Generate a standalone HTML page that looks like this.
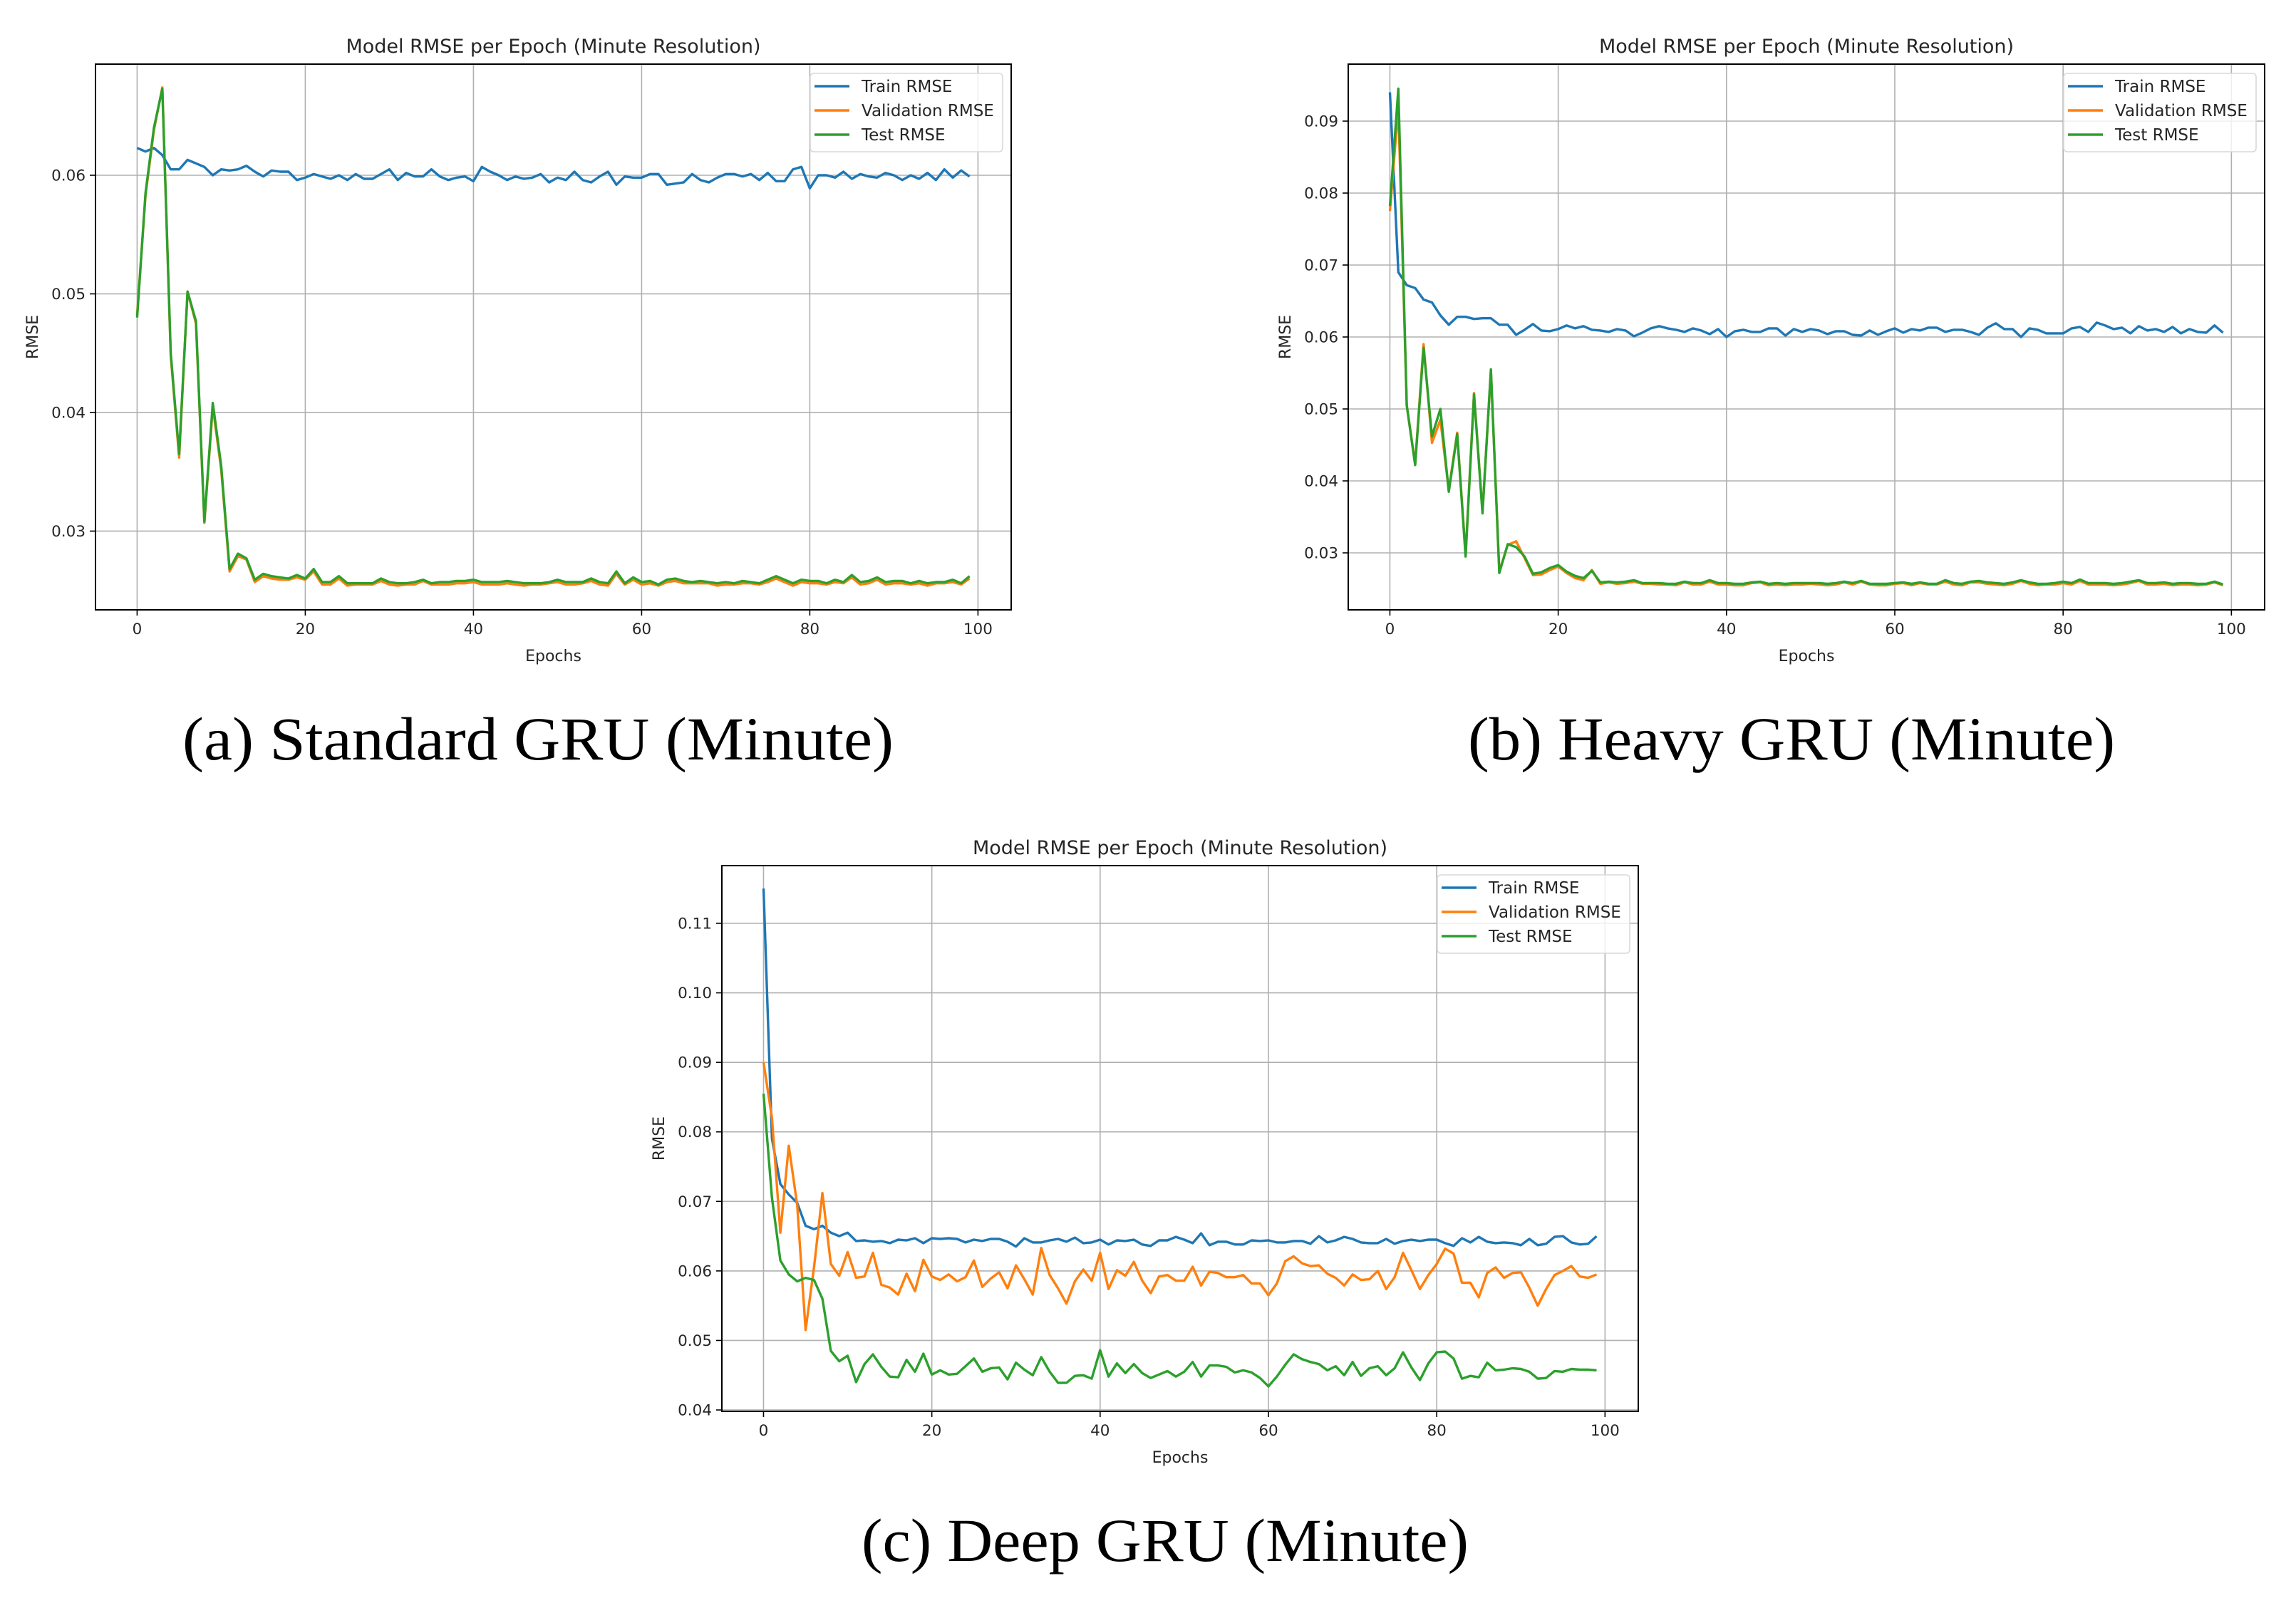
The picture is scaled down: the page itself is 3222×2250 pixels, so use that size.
<!DOCTYPE html>
<html><head><meta charset="utf-8"><style>
html,body{margin:0;padding:0;background:#fff;width:3222px;height:2250px;overflow:hidden}
svg{display:block}
text{font-family:"DejaVu Sans","Liberation Sans",sans-serif;fill:#262626}
.cap{font-family:"Liberation Serif",serif;fill:#000}
</style></head><body>
<svg id="fig" width="3222" height="2250" viewBox="0 0 3222 2250" xmlns="http://www.w3.org/2000/svg">
<rect width="3222" height="2250" fill="#fff"/>
<text class="cap" x="256" y="1066" font-size="86" textLength="998" lengthAdjust="spacingAndGlyphs">(a) Standard GRU (Minute)</text>
<text class="cap" x="2060" y="1066" font-size="86" textLength="908" lengthAdjust="spacingAndGlyphs">(b) Heavy GRU (Minute)</text>
<text class="cap" x="1209" y="2191" font-size="86" textLength="852" lengthAdjust="spacingAndGlyphs">(c) Deep GRU (Minute)</text>
</svg>
<script>
const epochs = Array.from({length:100},(_, i)=>i);
const xTicks = [0,20,40,60,80,100];
const yTicksA = [0.03,0.04,0.05,0.06];
const yTicksB = [0.03,0.04,0.05,0.06,0.07,0.08,0.09];
const yTicksC = [0.04,0.05,0.06,0.07,0.08,0.09,0.10,0.11];
const yTickLabelsA = ["0.03","0.04","0.05","0.06"];
const yTickLabelsB = ["0.03","0.04","0.05","0.06","0.07","0.08","0.09"];
const yTickLabelsC = ["0.04","0.05","0.06","0.07","0.08","0.09","0.10","0.11"];
const seriesNames = ["Train RMSE","Validation RMSE","Test RMSE"];

const trainA = [.0623,.062,.0623,.0617,.0605,.0605,.0613,.061,.0607,.060,
.0605,.0604,.0605,.0608,.0603,.0599,.0604,.0603,.0603,.0596,
.0598,.0601,.0599,.0597,.06,.0596,.0601,.0597,.0597,.0601,
.0605,.0596,.0602,.0599,.0599,.0605,.0599,.0596,.0598,.0599,
.0595,.0607,.0603,.06,.0596,.0599,.0597,.0598,.0601,.0594,
.0598,.0596,.0603,.0596,.0594,.0599,.0603,.0592,.0599,.0598,
.0598,.0601,.0601,.0592,.0593,.0594,.0601,.0596,.0594,.0598,
.0601,.0601,.0599,.0601,.0596,.0602,.0595,.0595,.0605,.0607,
.0589,.06,.06,.0598,.0603,.0597,.0601,.0599,.0598,.0602,
.06,.0596,.06,.0597,.0602,.0596,.0605,.0598,.0604,.0599];
const valA = [.0482,.0583,.0638,.0674,.0448,.0362,.0502,.0475,.0307,.0405,
.0352,.0266,.0279,.0276,.0257,.0262,.026,.0259,.0259,.0261,
.0259,.0266,.0255,.0255,.026,.0254,.0255,.0255,.0255,.0258,
.0255,.0254,.0255,.0255,.0258,.0255,.0255,.0255,.0256,.0256,
.0257,.0255,.0255,.0255,.0256,.0255,.0254,.0255,.0255,.0256,
.0257,.0255,.0255,.0256,.0258,.0255,.0254,.0264,.0255,.0259,
.0255,.0256,.0254,.0257,.0258,.0256,.0256,.0256,.0256,.0254,
.0255,.0255,.0256,.0256,.0255,.0257,.026,.0257,.0254,.0257,
.0256,.0256,.0255,.0257,.0256,.0261,.0255,.0256,.0259,.0255,
.0256,.0256,.0255,.0256,.0254,.0256,.0256,.0257,.0255,.026];
const testA = [.048,.0585,.064,.0673,.045,.0365,.0502,.0477,.0308,.0408,
.0355,.0268,.0281,.0277,.0259,.0264,.0262,.0261,.026,.0263,
.026,.0268,.0257,.0257,.0262,.0256,.0256,.0256,.0256,.026,
.0257,.0256,.0256,.0257,.0259,.0256,.0257,.0257,.0258,.0258,
.0259,.0257,.0257,.0257,.0258,.0257,.0256,.0256,.0256,.0257,
.0259,.0257,.0257,.0257,.026,.0257,.0256,.0266,.0256,.0261,
.0257,.0258,.0255,.0259,.026,.0258,.0257,.0258,.0257,.0256,
.0257,.0256,.0258,.0257,.0256,.0259,.0262,.0259,.0256,.0259,
.0258,.0258,.0256,.0259,.0257,.0263,.0257,.0258,.0261,.0257,
.0258,.0258,.0256,.0258,.0256,.0257,.0257,.0259,.0256,.0262];

const trainB = [.094,.069,.0672,.0668,.0652,.0648,.063,.0617,.0628,.0628,
.0625,.0626,.0626,.0617,.0617,.0603,.061,.0618,.0609,.0608,
.0611,.0616,.0612,.0615,.061,.0609,.0607,.0611,.0609,.0601,
.0606,.0612,.0615,.0612,.061,.0607,.0612,.0609,.0604,.0611,
.06,.0608,.061,.0607,.0607,.0612,.0612,.0602,.0611,.0607,
.0611,.0609,.0604,.0608,.0608,.0603,.0602,.0609,.0603,.0608,
.0612,.0606,.0611,.0609,.0613,.0613,.0607,.061,.061,.0607,
.0603,.0613,.0619,.0611,.0611,.06,.0612,.061,.0605,.0605,
.0605,.0612,.0614,.0607,.062,.0616,.0611,.0613,.0605,.0615,
.0609,.0611,.0607,.0614,.0605,.0611,.0607,.0606,.0616,.0606];
const valB = [.0775,.092,.0505,.0424,.059,.0453,.0485,.0387,.0467,.0297,
.0522,.0357,.0553,.0274,.0311,.0316,.0293,.0269,.027,.0276,
.0281,.0272,.0265,.0262,.0276,.0257,.0259,.0257,.0258,.026,
.0257,.0257,.0256,.0256,.0255,.0259,.0256,.0256,.026,.0256,
.0256,.0255,.0255,.0258,.0259,.0255,.0256,.0255,.0256,.0256,
.0257,.0256,.0255,.0256,.0259,.0256,.026,.0256,.0255,.0255,
.0257,.0258,.0255,.0258,.0256,.0256,.026,.0256,.0255,.0259,
.0259,.0257,.0256,.0255,.0257,.0261,.0257,.0255,.0256,.0256,
.0258,.0256,.0261,.0256,.0256,.0256,.0255,.0256,.0258,.0261,
.0256,.0256,.0257,.0255,.0256,.0256,.0255,.0256,.0259,.0255];
const testB = [.0782,.0945,.0505,.0422,.0585,.0462,.05,.0385,.0465,.0295,
.052,.0355,.0555,.0272,.0312,.0308,.0295,.0271,.0273,.0279,
.0283,.0274,.0268,.0265,.0275,.0259,.026,.0259,.026,.0262,
.0258,.0258,.0258,.0257,.0257,.026,.0258,.0258,.0262,.0258,
.0258,.0257,.0257,.0259,.026,.0257,.0258,.0257,.0258,.0258,
.0258,.0258,.0257,.0258,.026,.0258,.0261,.0257,.0257,.0257,
.0258,.0259,.0257,.0259,.0257,.0257,.0262,.0258,.0257,.026,
.0261,.0259,.0258,.0257,.0259,.0262,.0259,.0257,.0257,.0258,
.026,.0258,.0263,.0258,.0258,.0258,.0257,.0258,.026,.0262,
.0258,.0258,.0259,.0257,.0258,.0258,.0257,.0257,.026,.0256];

const trainC = [.115,.079,.0725,.071,.0698,.0665,.066,.0665,.0655,.065,
.0655,.0643,.0644,.0642,.0643,.064,.0645,.0644,.0647,.064,
.0647,.0646,.0647,.0646,.0641,.0645,.0643,.0646,.0646,.0642,
.0635,.0647,.0641,.0641,.0644,.0646,.0642,.0648,.064,.0641,
.0645,.0638,.0644,.0643,.0645,.0638,.0636,.0644,.0644,.0649,
.0645,.064,.0654,.0637,.0642,.0642,.0638,.0638,.0644,.0643,
.0644,.0641,.0641,.0643,.0643,.0639,.065,.0641,.0644,.0649,
.0646,.0641,.064,.064,.0646,.0639,.0643,.0645,.0643,.0645,
.0645,.064,.0636,.0647,.0641,.0649,.0642,.064,.0641,.064,
.0637,.0646,.0637,.0639,.0649,.065,.0641,.0638,.0639,.065];
const valC = [.09,.082,.0655,.078,.0695,.0515,.0605,.0712,.061,.0593,
.0627,.059,.0592,.0626,.058,.0576,.0566,.0596,.0571,.0616,
.0592,.0587,.0595,.0585,.0591,.0615,.0577,.0589,.0598,.0575,
.0608,.0588,.0566,.0633,.0594,.0575,.0553,.0585,.0602,.0586,
.0626,.0574,.0601,.0593,.0613,.0586,.0568,.0592,.0594,.0586,
.0586,.0606,.0579,.0599,.0597,.0591,.0591,.0594,.0582,.0582,
.0565,.0582,.0614,.0621,.0611,.0607,.0608,.0596,.059,.0579,
.0595,.0587,.0588,.06,.0574,.0591,.0626,.0601,.0574,.0594,
.061,.0632,.0625,.0583,.0583,.0562,.0597,.0605,.059,.0597,
.0598,.0576,.055,.0574,.0594,.06,.0607,.0592,.059,.0595];
const testC = [.0855,.0705,.0615,.0595,.0585,.059,.0587,.056,.0485,.047,
.0478,.044,.0466,.048,.0462,.0448,.0447,.0472,.0455,.0481,
.0451,.0457,.0451,.0452,.0463,.0474,.0455,.046,.0461,.0444,
.0468,.0458,.045,.0476,.0455,.0439,.0439,.0449,.045,.0445,
.0486,.0448,.0467,.0453,.0466,.0453,.0446,.0451,.0456,.0448,
.0455,.0469,.0448,.0464,.0464,.0462,.0454,.0457,.0454,.0446,
.0434,.0448,.0465,.048,.0473,.0469,.0466,.0457,.0463,.045,
.0469,.0449,.046,.0463,.045,.046,.0483,.0461,.0443,.0467,
.0483,.0484,.0474,.0445,.0449,.0447,.0468,.0457,.0458,.046,
.0459,.0455,.0445,.0446,.0456,.0455,.0459,.0458,.0458,.0457];

const NS = "http://www.w3.org/2000/svg";
const svg = document.getElementById('fig');
const COLORS = ["#1f77b4","#ff7f0e","#2ca02c"];
function mk(tag, attrs, parent){
  const e = document.createElementNS(NS, tag);
  for (const k in attrs) e.setAttribute(k, attrs[k]);
  (parent||svg).appendChild(e);
  return e;
}
function drawChart(id, box, yMin, yMax, yTicks, yLabels, series, title){
  const g = mk('g', {});
  
  
  const xMin = -4.95, xMax = 103.95;
  const X = v => box.l + (v - xMin) / (xMax - xMin) * (box.r - box.l);
  const Y = v => box.b - (v - yMin) / (yMax - yMin) * (box.b - box.t);
  xTicks.forEach(t => {
    const l = mk('line', {x1:X(t), x2:X(t), y1:box.t, y2:box.b, stroke:'#b0b0b0', 'stroke-width':1.6}, g);
    
    
  });
  yTicks.forEach(t => {
    const l = mk('line', {x1:box.l, x2:box.r, y1:Y(t), y2:Y(t), stroke:'#b0b0b0', 'stroke-width':1.6}, g);
    
    
  });
  series.forEach((s, si) => {
    const d = epochs.map((e, i) => (i ? 'L' : 'M') + X(e).toFixed(1) + ' ' + Y(s[i]).toFixed(1)).join(' ');
    const p = mk('path', {d, fill:'none', stroke:COLORS[si], 'stroke-width':3.4, 'stroke-linejoin':'round'}, g);
    
    
  });
  const fr = mk('rect', {x:box.l, y:box.t, width:box.r-box.l, height:box.b-box.t, fill:'none', stroke:'#000', 'stroke-width':2}, g);
  
  
  xTicks.forEach(t => {
    mk('line', {x1:X(t), x2:X(t), y1:box.b, y2:box.b+8, stroke:'#000', 'stroke-width':1.6}, g);
    const tx = mk('text', {x:X(t), y:box.b+34, 'font-size':21.5, 'text-anchor':'middle'}, g);
    tx.textContent = String(t);
    
    
  });
  yTicks.forEach((t, i) => {
    mk('line', {x1:box.l-8, x2:box.l, y1:Y(t), y2:Y(t), stroke:'#000', 'stroke-width':1.6}, g);
    const tx = mk('text', {x:box.l-14, y:Y(t)+7.5, 'font-size':21.5, 'text-anchor':'end'}, g);
    tx.textContent = yLabels[i];
    
    
  });
  const xl = mk('text', {x:(box.l+box.r)/2, y:box.b+72, 'font-size':22, 'text-anchor':'middle'}, g);
  xl.textContent = 'Epochs';
  
  
  const yx = box.l - 81, yy = (box.t+box.b)/2;
  const yl = mk('text', {x:yx, y:yy, 'font-size':22, 'text-anchor':'middle', transform:`rotate(-90 ${yx} ${yy})`}, g);
  yl.textContent = 'RMSE';
  
  
  const tt = mk('text', {x:(box.l+box.r)/2, y:box.t-16, 'font-size':27, 'text-anchor':'middle'}, g);
  tt.textContent = title;
  
  
  const lg = mk('g', {}, g);
  
  
  const lr = box.r - 12, ll = lr - 270, lt = box.t + 13;
  mk('rect', {x:ll, y:lt, width:270, height:110, rx:5, fill:'#fff', 'fill-opacity':0.8, stroke:'#d9d9d9', 'stroke-width':1.6}, lg);
  seriesNames.forEach((n, i) => {
    const cy = lt + 18 + i*34;
    mk('line', {x1:ll+6, x2:ll+55, y1:cy, y2:cy, stroke:COLORS[i], 'stroke-width':3.4}, lg);
    const t = mk('text', {x:ll+72, y:cy+8, 'font-size':23}, lg);
    t.textContent = n;
    
    
  });
}
const TITLE = 'Model RMSE per Epoch (Minute Resolution)';
drawChart('a', {l:134, r:1419, t:90, b:856}, 0.02336, 0.06937, yTicksA, yTickLabelsA, [trainA, valA, testA], TITLE);
drawChart('b', {l:1892, r:3178, t:90, b:856}, 0.02208, 0.09792, yTicksB, yTickLabelsB, [trainB, valB, testB], TITLE);
drawChart('c', {l:1013, r:2299, t:1215, b:1981}, 0.0398, 0.1183, yTicksC, yTickLabelsC, [trainC, valC, testC], TITLE);
</script>
</body></html>
